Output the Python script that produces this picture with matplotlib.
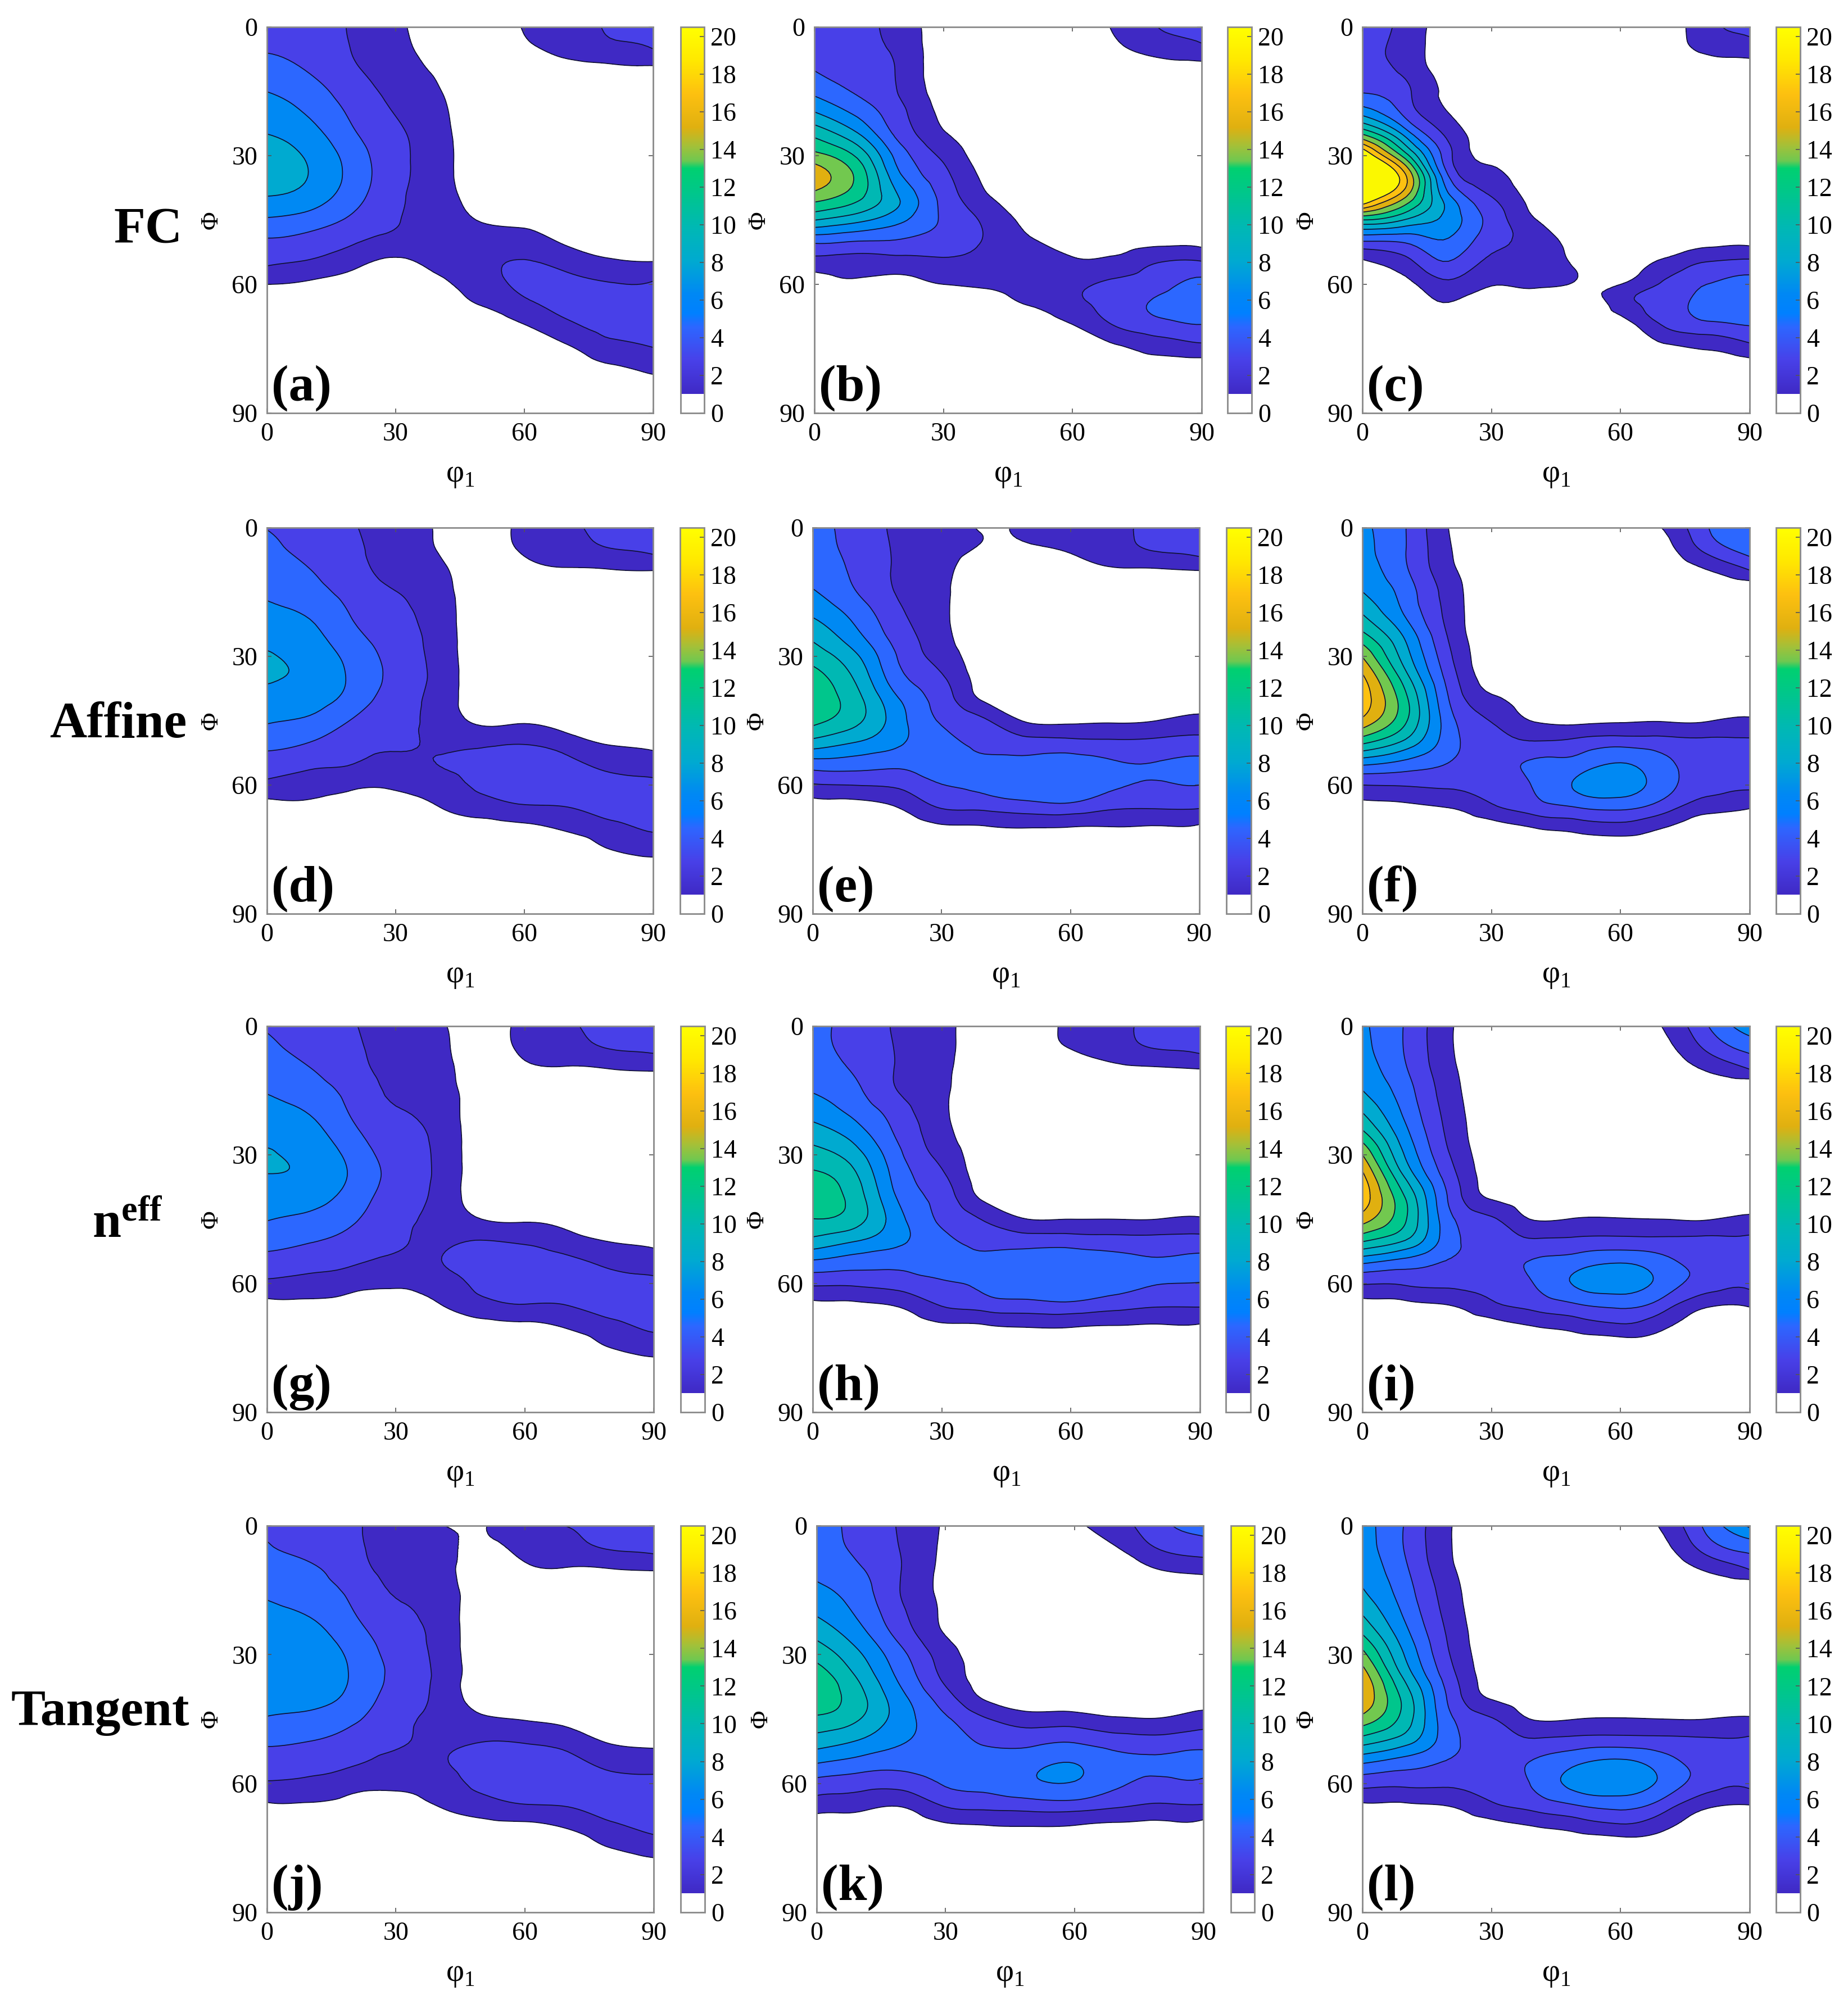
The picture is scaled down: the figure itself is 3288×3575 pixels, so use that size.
import numpy as np
import matplotlib
matplotlib.use('Agg')
import matplotlib.pyplot as plt
import matplotlib.tri as mtri
from matplotlib.cm import ScalarMappable
from matplotlib.colors import LinearSegmentedColormap, Normalize

plt.rcParams['font.family'] = ['Liberation Serif', 'DejaVu Serif']
plt.rcParams['mathtext.fontset'] = 'custom'
plt.rcParams['mathtext.rm'] = 'Liberation Serif'
plt.rcParams['mathtext.bf'] = 'Liberation Serif:bold'

phi1_vals = [0, 10, 20, 30, 40, 50, 60, 70, 80, 90]
Phi_vals = [0, 5, 10, 15, 20, 25, 30, 35, 40, 45, 50, 55, 60, 65, 70, 75, 80, 85, 90]
levels = [1, 2.77, 4.55, 6.32, 8.09, 9.86, 11.64, 13.41, 15.18, 16.95, 18.73, 30]
cbar_ticks = [0, 2, 4, 6, 8, 10, 12, 14, 16, 18, 20]
angle_ticks = [0, 30, 60, 90]
letters = ['(a)', '(b)', '(c)', '(d)', '(e)', '(f)', '(g)', '(h)', '(i)', '(j)', '(k)', '(l)']
row_names = ['FC', 'Affine', r'$\mathbf{n^{eff}}$', 'Tangent']

# each inner list is one phi1 column, going down in Phi, rest of the column is 0
panel_a = [
    [4.0,4.4,5.3,6.3,7.2,8.1,9.1,9.3,7.9,6.1,4.3,3.0,1.0],
    [3.6,3.9,4.4,5.3,6.1,7.0,7.8,8.0,7.2,5.5,3.9,2.5,.7],
    [2.6,2.7,3.0,3.6,4.2,4.8,5.5,5.7,5.2,4.2,3.0,1.5,.3],
    [1.4,1.6,1.9,2.3,2.7,3.1,3.3,3.3,3.1,2.9,2.2,.6],
    [0,.2,.7,1.1,1.4,1.6,1.7,1.7,1.8,2.0,2.1,1.5,.6],
    [0,0,0,0,0,0,0,0,.3,.9,1.9,2.4,2.0,1.0],
    [1.1,.7,.1,0,0,0,0,0,0,.6,1.8,2.9,3.1,2.3,.8],
    [1.9,1.4,.5,0,0,0,0,0,0,0,.7,2.2,3.2,3.2,2.3,.7],
    [3.0,2.2,.6,0,0,0,0,0,0,0,.3,1.3,2.9,3.4,3.2,2.1,.6],
    [3.3,2.8,.6,0,0,0,0,0,0,0,.2,1.1,3.0,3.6,3.4,2.7,1.3],
]
panel_b = [
    [3.2,3.6,4.5,5.9,8.2,11.2,14.0,16.3,14.0,9.9,4.9,2.0],
    [3.0,3.1,3.5,4.3,5.9,8.3,11.3,13.0,12.0,8.6,4.5,1.9,.7],
    [2.1,2.3,2.5,2.6,3.2,3.9,5.4,6.6,8.0,6.7,4.3,2.0,.4],
    [0,0,0,.2,.6,1.2,2.4,3.3,4.0,4.3,3.7,2.4,1.0],
    [0,0,0,0,0,0,.1,.6,1.3,2.4,2.6,2.3,1.3,.1],
    [0,0,0,0,0,0,0,0,0,.5,1.2,2.0,1.9,1.0],
    [0,0,0,0,0,0,0,0,0,0,.5,1.3,2.4,2.2,.8],
    [1.2,.7,0,0,0,0,0,0,0,0,.4,1.5,3.2,3.5,2.7,.6],
    [2.8,1.7,.3,0,0,0,0,0,0,0,.5,2.8,4.0,4.9,3.7,1.6],
    [3.5,2.4,.2,0,0,0,0,0,0,0,.5,3.0,5.1,5.6,4.3,2.1],
]
panel_c = [
    [3.4,3.4,3.6,4.4,7.5,13.4,21,23,21,11.6,4.5,.6],
    [2.2,2.0,2.3,3.2,4.0,7.5,12.5,17.3,14.9,9.7,4.8,2.1,.5],
    [0,0,.2,.5,1.0,2.3,3.3,4.7,7.0,7.4,6.1,4.4,2.3,.8],
    [0,0,0,0,0,0,.6,1.5,2.9,3.9,3.4,2.3,1.1],
    [0,0,0,0,0,0,0,0,.4,1.1,2.1,2.3,1.3],
    [0,0,0,0,0,0,0,0,0,0,.3,.7,.8,-.5],
    [0,0,0,0,0,0,0,0,0,0,0,-.3,1.0,1.9,-.2],
    [0,0,0,0,0,0,0,0,0,0,0,1.4,3.0,3.3,2.7,.5],
    [2.2,1.5,0,0,0,0,0,0,0,0,.4,2.9,4.55,5.3,3.8,1.1],
    [3.3,2.0,0,0,0,0,0,0,0,0,.6,3.3,5.2,5.9,4.4,2.1],
]
panel_d = [
    [4.5,5.0,5.5,6.1,6.7,7.4,8.3,8.4,7.2,6.5,5.1,3.8,2.3,.4],
    [3.8,4.0,4.6,5.2,6.1,6.8,7.4,7.6,7.1,6.0,4.55,3.2,1.7,.7],
    [2.9,3.1,3.4,3.9,4.4,5.0,5.7,6.0,5.6,4.4,3.5,2.8,1.3,.4],
    [1.9,2.0,2.2,2.8,3.2,3.6,3.9,4.0,3.6,3.3,3.0,2.3,1.2,.5],
    [.8,.9,1.4,1.7,1.9,2.0,2.1,2.2,2.1,2.2,2.5,2.8,1.9,1.0,.3],
    [0,0,0,0,0,0,0,0,0,.6,2.4,3.2,3.1,1.9,.4],
    [1.6,1.3,.4,0,0,0,0,0,0,.8,2.6,3.5,3.6,2.6,.6],
    [2.5,2.0,.8,0,0,0,0,0,0,.2,1.8,3.2,3.7,2.8,1.3],
    [3.4,2.7,.9,0,0,0,0,0,0,0,.8,2.3,3.3,3.5,2.2,1.0],
    [3.8,3.2,1.0,0,0,0,0,0,0,0,.6,1.8,3.2,3.6,3.0,1.6,.2],
]
panel_e = [
    [5.0,5.2,5.5,6.5,7.8,9.4,10.9,12.4,13.0,12.2,9.3,5.5,2.6,.3],
    [3.9,4.0,4.2,4.6,5.7,6.8,8.4,9.6,10.5,10.3,8.1,5.4,2.8,.4],
    [2.4,2.5,2.5,2.6,3.1,3.7,4.4,5.1,6.4,7.0,6.6,5.0,3.1,1.1],
    [1.6,1.6,1.4,1.3,1.3,1.5,2.0,3.0,3.7,4.4,5.1,5.5,4.5,3.0,.7],
    [.9,.8,0,0,0,0,0,.1,.7,3.0,4.0,5.0,5.0,3.3,.8],
    [1.2,.8,0,0,0,0,0,0,0,.8,3.4,5.1,5.7,3.8,1.0],
    [1.5,1.2,.2,0,0,0,0,0,0,.7,3.3,5.3,5.8,4.0,.9],
    [2.3,1.9,.8,0,0,0,0,0,0,.8,3.1,4.7,4.8,3.1,.9],
    [3.4,3.0,.8,0,0,0,0,0,0,1.0,3.2,4.6,4.4,3.0,.8],
    [3.9,3.5,1.0,0,0,0,0,0,0,1.6,3.4,4.9,4.55,3.0,.7],
]
panel_f = [
    [6.6,6.8,7.3,8.1,9.8,12.1,15.1,17.3,18.0,16.5,12.1,6.7,2.77,.5],
    [4.6,4.6,4.8,5.5,6.1,7.7,8.9,10.6,12.1,11.9,9.4,5.7,2.9,.7],
    [1.0,1.2,1.5,2.0,2.2,2.6,3.2,3.9,4.6,5.3,5.4,4.5,3.1,1.1],
    [0,0,0,0,0,0,0,.2,1.4,2.7,3.4,3.8,3.5,2.5,.3],
    [0,0,0,0,0,0,0,0,0,.9,2.9,4.8,4.7,3.8,1.0],
    [0,0,0,0,0,0,0,0,0,.6,3.3,5.3,6.6,4.7,1.6],
    [0,0,0,0,0,0,0,0,0,.8,3.8,6.4,7.2,5.1,2.0],
    [1.1,.4,0,0,0,0,0,0,0,.9,3.5,5.0,5.3,3.7,1.0],
    [4.4,3.3,.9,0,0,0,0,0,0,.9,3.2,3.9,3.5,1.8],
    [6.3,5.2,2.7,-.3,0,0,0,0,0,1.3,3.1,3.6,3.1,1.2],
]
panel_g = [
    [4.4,4.9,5.4,6.2,6.9,7.5,8.3,8.0,7.1,6.4,5.2,3.9,2.4,.5],
    [3.7,4.0,4.6,5.3,6.2,6.9,7.5,7.7,7.0,5.9,4.7,3.4,2.1,.6],
    [2.9,3.1,3.4,3.9,4.3,5.0,5.7,6.0,5.5,4.8,3.9,3.0,1.5,.5],
    [1.9,2.1,2.3,2.5,2.9,3.4,3.8,4.0,3.7,3.3,3.0,2.4,1.2,.5],
    [1.3,1.5,1.7,1.9,2.1,2.3,2.4,2.4,2.3,2.3,2.5,2.7,1.9,.9],
    [0,0,0,0,0,0,0,0,0,1.0,2.8,3.3,3.1,2.2,.4],
    [1.7,1.5,.6,0,0,0,0,0,0,.8,2.5,3.4,3.6,2.7,.6],
    [2.6,2.1,.8,0,0,0,0,0,0,.5,1.7,3.2,3.7,2.8,1.2],
    [3.5,2.9,1.0,0,0,0,0,0,0,0,.9,2.4,3.3,3.5,2.2,1.0],
    [3.8,3.2,1.2,0,0,0,0,0,0,0,.6,1.9,3.2,3.7,3.1,1.7,.3],
]
panel_h = [
    [5.0,4.9,5.4,6.2,7.4,9.0,10.6,12.0,12.6,11.6,9.4,6.0,3.1,.6],
    [3.9,4.0,4.3,4.9,5.8,7.2,8.8,10.1,10.8,10.6,8.2,5.4,3.1,.7],
    [2.5,2.6,2.6,2.7,3.6,4.2,4.9,5.5,6.1,6.9,6.7,5.1,3.5,1.2],
    [1.5,1.5,1.4,1.3,1.3,1.6,2.2,3.1,3.8,4.3,5.1,5.5,4.3,2.9,.7],
    [0,0,0,0,0,0,0,0,.6,2.6,3.8,5.2,5.0,3.6,.8],
    [0,0,0,0,0,0,0,0,0,1.0,3.7,5.4,5.6,3.9,1.1],
    [1.5,1.1,0,0,0,0,0,0,0,1.0,3.7,5.5,5.8,4.1,1.1],
    [2.3,1.9,.6,0,0,0,0,0,0,1.0,3.5,5.1,5.2,3.5,.9],
    [3.4,2.9,.8,0,0,0,0,0,0,1.0,3.4,4.7,4.6,3.0,.8],
    [3.9,3.3,1.0,0,0,0,0,0,0,1.2,3.5,4.9,4.5,3.0,.8],
]
panel_i = [
    [6.6,6.8,7.3,8.1,9.8,12.1,15.2,17.4,18.1,16.0,11.9,6.7,2.9,.4],
    [4.4,4.4,4.7,5.3,5.9,6.8,7.9,9.6,11.6,11.8,9.8,5.6,3.0,.6],
    [1.3,1.3,1.5,1.8,2.1,2.4,2.9,3.7,4.4,5.1,5.4,4.4,3.2,1.0],
    [0,0,0,0,0,0,0,.1,.8,3.0,3.5,3.9,3.3,2.4,.3],
    [0,0,0,0,0,0,0,0,0,.9,3.0,4.7,4.6,3.4,1.0],
    [0,0,0,0,0,0,0,0,0,1.1,3.2,5.5,6.6,4.4,1.7],
    [0,0,0,0,0,0,0,0,0,1.1,3.3,6.2,7.2,5.0,2.4],
    [1.1,.5,0,0,0,0,0,0,0,1.0,3.2,5.1,5.6,3.6,1.3],
    [4.4,3.1,1.2,0,0,0,0,0,0,.9,3.2,3.9,3.7,1.3],
    [7.4,5.1,2.8,-.5,0,0,0,0,0,1.4,3.2,3.6,3.2,1.2],
]
panel_j = [
    [4.2,4.7,5.1,6.0,6.7,7.2,7.7,7.8,7.0,6.2,4.9,3.7,2.6,.8],
    [3.6,3.9,4.8,5.3,6.1,6.8,7.3,7.5,6.9,5.9,4.6,3.3,2.4,.8],
    [3.0,3.1,3.5,4.1,4.6,5.3,5.9,6.1,5.8,4.9,3.8,3.0,1.6,.5],
    [1.9,2.1,2.3,2.6,3.1,3.6,3.9,4.1,3.7,3.3,3.0,2.3,1.3,.5],
    [1.1,1.5,1.8,2.0,2.1,2.2,2.3,2.4,2.4,2.4,2.5,2.6,1.9,1.1],
    [.95,.7,0,0,0,0,0,0,0,1.4,2.7,3.3,3.2,2.0,.5],
    [1.8,1.5,.7,0,0,0,0,0,0,.9,2.6,3.4,3.7,2.7,.6],
    [2.8,2.2,.9,0,0,0,0,0,0,.5,2.0,3.3,3.8,2.9,1.2],
    [3.5,3.0,1.0,0,0,0,0,0,0,0,.8,2.2,3.4,3.6,2.4,1.0],
    [3.9,3.3,1.2,0,0,0,0,0,0,0,.6,1.9,3.3,3.7,3.2,1.8,.3],
]
panel_k = [
    [5.5,5.6,5.9,6.7,7.8,9.3,11.0,12.6,13.2,11.2,9.1,6.5,3.9,1.9],
    [3.9,4.1,4.7,5.3,5.9,6.9,8.3,9.5,10.4,9.9,8.0,5.7,3.5,1.6],
    [2.5,2.6,2.7,2.6,3.0,3.7,4.9,5.7,6.7,7.1,6.5,5.2,3.5,1.2],
    [.8,.7,.6,.6,.7,.9,1.8,2.3,3.5,4.8,5.4,5.4,4.7,3.0,.7],
    [0,0,0,0,0,0,0,.1,.6,2.8,4.2,5.3,5.1,3.4,.9],
    [0,0,0,0,0,0,0,0,0,1.8,4.0,5.7,6.0,3.7,1.0],
    [.7,.1,0,0,0,0,0,0,0,1.8,4.3,6.25,6.2,3.8,.9],
    [2.0,1.0,0,0,0,0,0,0,0,1.2,3.6,5.0,4.8,3.1,.6],
    [4.1,3.0,1.1,0,0,0,0,0,0,1.1,3.4,4.8,4.2,2.6,.5],
    [5.3,3.7,1.6,0,0,0,0,0,0,1.9,3.7,5.2,4.2,2.7,.4],
]
panel_l = [
    [7.0,7.2,7.6,8.2,9.6,11.5,14.0,16.2,16.8,14.5,10.8,6.6,3.4,.8],
    [4.4,4.4,4.8,5.3,5.9,6.8,7.9,9.3,10.9,10.8,8.9,5.5,3.2,.8],
    [1.2,1.2,1.4,1.8,2.1,2.5,2.9,3.6,4.3,5.0,5.3,4.4,3.1,1.1],
    [0,0,0,0,0,0,0,.1,.8,2.9,3.5,3.8,3.4,2.5,.4],
    [0,0,0,0,0,0,0,0,0,.9,3.0,4.7,4.8,3.5,1.0],
    [0,0,0,0,0,0,0,0,0,1.0,3.4,6.0,7.0,4.6,1.7],
    [0,0,0,0,0,0,0,0,0,1.1,3.5,6.7,7.4,5.2,2.4],
    [1.3,.6,0,0,0,0,0,0,0,1.0,3.3,5.3,5.8,3.7,1.4],
    [5.0,3.6,1.3,0,0,0,0,0,0,1.0,3.0,3.8,3.6,1.4],
    [8.4,5.2,2.9,-.3,0,0,0,0,0,1.2,3.1,3.6,3.2,1.0],
]
panels = [panel_a, panel_b, panel_c, panel_d, panel_e, panel_f,
          panel_g, panel_h, panel_i, panel_j, panel_k, panel_l]

W, H = 3288, 3575
fig = plt.figure(figsize=(W / 100, H / 100), dpi=100)

stops = [(0, '#ffffff'), (.999, '#ffffff'), (1, '#3f29c4'), (2.77, '#4840e8'), (4.55, '#2d66ff'),
         (5.3, '#0080ff'), (6.32, '#0088f4'), (8.09, '#00aad0'), (9.86, '#00b8b4'), (11.64, '#00c68c'),
         (13, '#00d070'), (13.41, '#70c850'), (14.2, '#a4c038'), (15.18, '#e0b010'), (16.95, '#fdc010'),
         (18.73, '#ffe800'), (20.5, '#ffff00')]
cmap = LinearSegmentedColormap.from_list('odf', [(v / 20.5, c) for v, c in stops], N=1024)
norm = Normalize(0, 20.5)
fill_colors = [cmap(norm(v + .03)) for v in levels[:-1]]
fill_colors[-1] = '#fbf800'

# left, right of each axes and of its colorbar, in pixels of the picture
ax_left = [475, 1449, 2424, 475, 1446, 2424, 475, 1446, 2424, 475, 1453, 2424]
ax_right = [1162, 2138, 3113, 1162, 2134, 3113, 1163, 2135, 3113, 1163, 2141, 3113]
cb_left = [1211, 2184, 3160, 1210, 2182, 3160, 1211, 2181, 3160, 1211, 2190, 3160]
cb_right = [1253, 2227, 3203, 1253, 2226, 3203, 1254, 2225, 3203, 1254, 2232, 3203]
row_top = [48, 939, 1826, 2715]
row_bottom = [735, 1626, 2513, 3403]
name_x = [325, 332, 290, 337]
name_y = [410, 1290, 2180, 3048]

xg, yg = np.meshgrid(phi1_vals, Phi_vals)
tri = mtri.Triangulation(xg.ravel(), yg.ravel())
refiner = mtri.UniformTriRefiner(tri)

for i, cols in enumerate(panels):
    r = i // 3
    z = np.zeros((len(phi1_vals), len(Phi_vals)))
    for j, c in enumerate(cols):
        z[j, :len(c)] = c
    z = z.T
    ax = fig.add_axes([ax_left[i] / W, 1 - row_bottom[r] / H,
                       (ax_right[i] - ax_left[i]) / W, (row_bottom[r] - row_top[r]) / H])
    interp = mtri.CubicTriInterpolator(tri, z.ravel(), kind='min_E')
    tri2, z2 = refiner.refine_field(z.ravel(), triinterpolator=interp, subdiv=3)
    ax.tricontourf(tri2, z2, levels=levels, colors=fill_colors)
    ax.tricontour(tri2, z2, levels=levels[:-1], colors='#101030', linewidths=1.2)
    ax.set_xlim(0, 90)
    ax.set_ylim(90, 0)
    ax.set_xticks(angle_ticks)
    ax.set_yticks(angle_ticks)
    ax.tick_params(direction='in', top=True, right=True, length=6, width=1.2, color='#555555',
                   labelsize=33, pad=12)
    for s in ax.spines.values():
        s.set_color('#8a8a8a')
        s.set_linewidth(2)
    ax.set_xlabel(r'φ$_{\mathrm{1}}$', fontsize=40, labelpad=18)
    ax.set_ylabel('Φ', fontsize=32, labelpad=12)
    ax.text(0.012, 0.065, letters[i], transform=ax.transAxes, fontsize=66, fontweight='bold',
            ha='left', va='center')

    cax = fig.add_axes([cb_left[i] / W, 1 - row_bottom[r] / H,
                        (cb_right[i] - cb_left[i]) / W, (row_bottom[r] - row_top[r]) / H])
    cb = fig.colorbar(ScalarMappable(norm=norm, cmap=cmap), cax=cax, ticks=cbar_ticks)
    cb.ax.tick_params(direction='in', length=6, width=1.2, color='#555555', labelsize=33, pad=8)
    cb.outline.set_edgecolor('#8a8a8a')
    cb.outline.set_linewidth(2)

for r, name in enumerate(row_names):
    fig.text(name_x[r] / W, 1 - name_y[r] / H, name, fontsize=66, fontweight='bold',
             ha='right', va='center')

fig.savefig('out.png', dpi=100, facecolor='white')
